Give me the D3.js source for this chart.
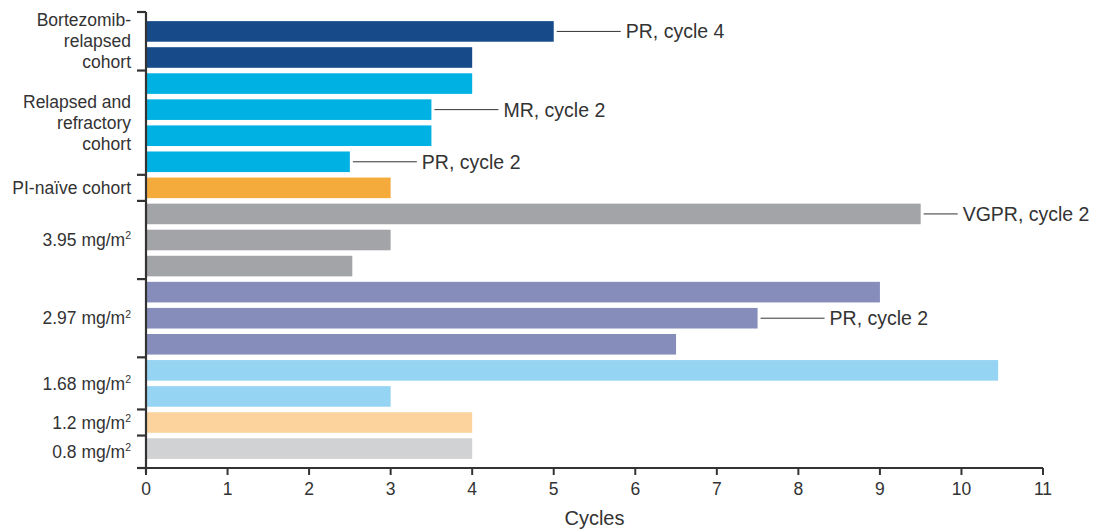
<!DOCTYPE html>
<html>
<head>
<meta charset="utf-8">
<script src="https://cdn.jsdelivr.net/npm/d3@7"></script>
<style>
  body { margin: 0; background: #fff; }
  text { font-family: "Liberation Sans", Arial, Helvetica, sans-serif; fill: #333; }
</style>
</head>
<body>
<div id="chart"></div>
<script>
// groups top to bottom, with their label lines and how many bars they hold
const groupLabels = [
  ["Bortezomib-", "relapsed", "cohort"],
  ["Relapsed and", "refractory", "cohort"],
  ["PI-naïve cohort"],
  ["3.95 mg/m²"],
  ["2.97 mg/m²"],
  ["1.68 mg/m²"],
  ["1.2 mg/m²"],
  ["0.8 mg/m²"]
];
const groupSizes = [2, 4, 1, 3, 3, 2, 1, 1];
const groupColors = ["#164a89", "#00b2e3", "#f5ab3c", "#a3a4a7", "#868dbb", "#96d4f3", "#fcd39d", "#d1d2d4"];

// cycles per patient, in drawing order
const cycles = [5, 4, 4, 3.5, 3.5, 2.5, 3, 9.5, 3, 2.53, 9, 7.5, 6.5, 10.45, 3, 4, 4];
// response notes: bar index -> text
const notes = [
  {bar: 0, text: "PR, cycle 4", len: 64},
  {bar: 3, text: "MR, cycle 2", len: 64},
  {bar: 5, text: "PR, cycle 2", len: 64},
  {bar: 7, text: "VGPR, cycle 2", len: 34},
  {bar: 11, text: "PR, cycle 2", len: 64}
];
const xTicks = d3.range(0, 12);

const width = 1101, height = 529;
const svg = d3.select("#chart").append("svg")
  .attr("width", width).attr("height", height);

const x = d3.scaleLinear().domain([0, 11]).range([146, 1043]);
const y = d3.scaleBand().domain(d3.range(cycles.length))
  .range([12, 468]).paddingInner(0.21).paddingOuter(0.35);

// group index of each bar
const barGroup = [];
groupSizes.forEach((n, g) => { for (let i = 0; i < n; i++) barGroup.push(g); });

svg.append("g").selectAll("rect")
  .data(cycles)
  .enter().append("rect")
  .attr("x", x(0))
  .attr("y", (d, i) => y(i))
  .attr("width", d => x(d) - x(0))
  .attr("height", y.bandwidth())
  .attr("fill", (d, i) => groupColors[barGroup[i]]);

// notes
const nt = svg.append("g").selectAll("g").data(notes).enter().append("g");
nt.append("line")
  .attr("x1", d => x(cycles[d.bar]) + 3)
  .attr("x2", d => x(cycles[d.bar]) + 3 + d.len)
  .attr("y1", d => y(d.bar) + y.bandwidth() / 2)
  .attr("y2", d => y(d.bar) + y.bandwidth() / 2)
  .attr("stroke", "#333").attr("stroke-width", 1);
nt.append("text")
  .attr("x", d => x(cycles[d.bar]) + 3 + d.len + 5)
  .attr("y", d => y(d.bar) + y.bandwidth() / 2)
  .attr("dy", "0.36em")
  .attr("font-size", 19.5)
  .text(d => d.text);

// x axis
const xAxis = svg.append("g");
xAxis.append("line")
  .attr("x1", 137).attr("x2", x(11)).attr("y1", 468).attr("y2", 468)
  .attr("stroke", "#333").attr("stroke-width", 2.2);
xAxis.selectAll(".tk").data(xTicks).enter().append("line")
  .attr("x1", d => x(d)).attr("x2", d => x(d))
  .attr("y1", 468).attr("y2", 475)
  .attr("stroke", "#333").attr("stroke-width", 2);
xAxis.selectAll(".tl").data(xTicks).enter().append("text")
  .attr("x", d => x(d)).attr("y", 495)
  .attr("text-anchor", "middle").attr("font-size", 17.5)
  .text(d => d);
svg.append("text")
  .attr("x", x(5.5)).attr("y", 525)
  .attr("text-anchor", "middle").attr("font-size", 20)
  .text("Cycles");

// y axis with group dividers
const step = y.step();
const bounds = [12];
let acc = 0;
groupSizes.forEach((n, g) => {
  acc += n;
  if (g < groupSizes.length - 1) bounds.push(y(acc) - step * y.paddingInner() / 2);
});
bounds.push(468);

svg.append("line")
  .attr("x1", x(0)).attr("x2", x(0)).attr("y1", 12).attr("y2", 473)
  .attr("stroke", "#333").attr("stroke-width", 2.2);
svg.append("g").selectAll("line").data(bounds).enter().append("line")
  .attr("x1", 137).attr("x2", x(0))
  .attr("y1", d => d).attr("y2", d => d)
  .attr("stroke", "#333").attr("stroke-width", 2.2);

// group labels (² drawn as a small raised 2)
const lineH = 21, labelSize = 17.5;
const gl = svg.append("g").selectAll("text").data(groupLabels).enter().append("text")
  .attr("text-anchor", "end").attr("font-size", labelSize)
  .attr("y", (d, g) => (bounds[g] + bounds[g + 1]) / 2 - (d.length - 1) * lineH / 2 + 0.35 * labelSize);
gl.each(function (lines) {
  const t = d3.select(this);
  lines.forEach((line, i) => {
    const parts = line.split("²");
    t.append("tspan")
      .attr("x", 131)
      .attr("dy", i === 0 ? 0 : lineH)
      .text(parts[0]);
    if (parts.length > 1) {
      t.append("tspan")
        .attr("font-size", labelSize * 0.6)
        .attr("dy", -labelSize * 0.38)
        .text("2");
    }
  });
});
</script>
</body>
</html>
